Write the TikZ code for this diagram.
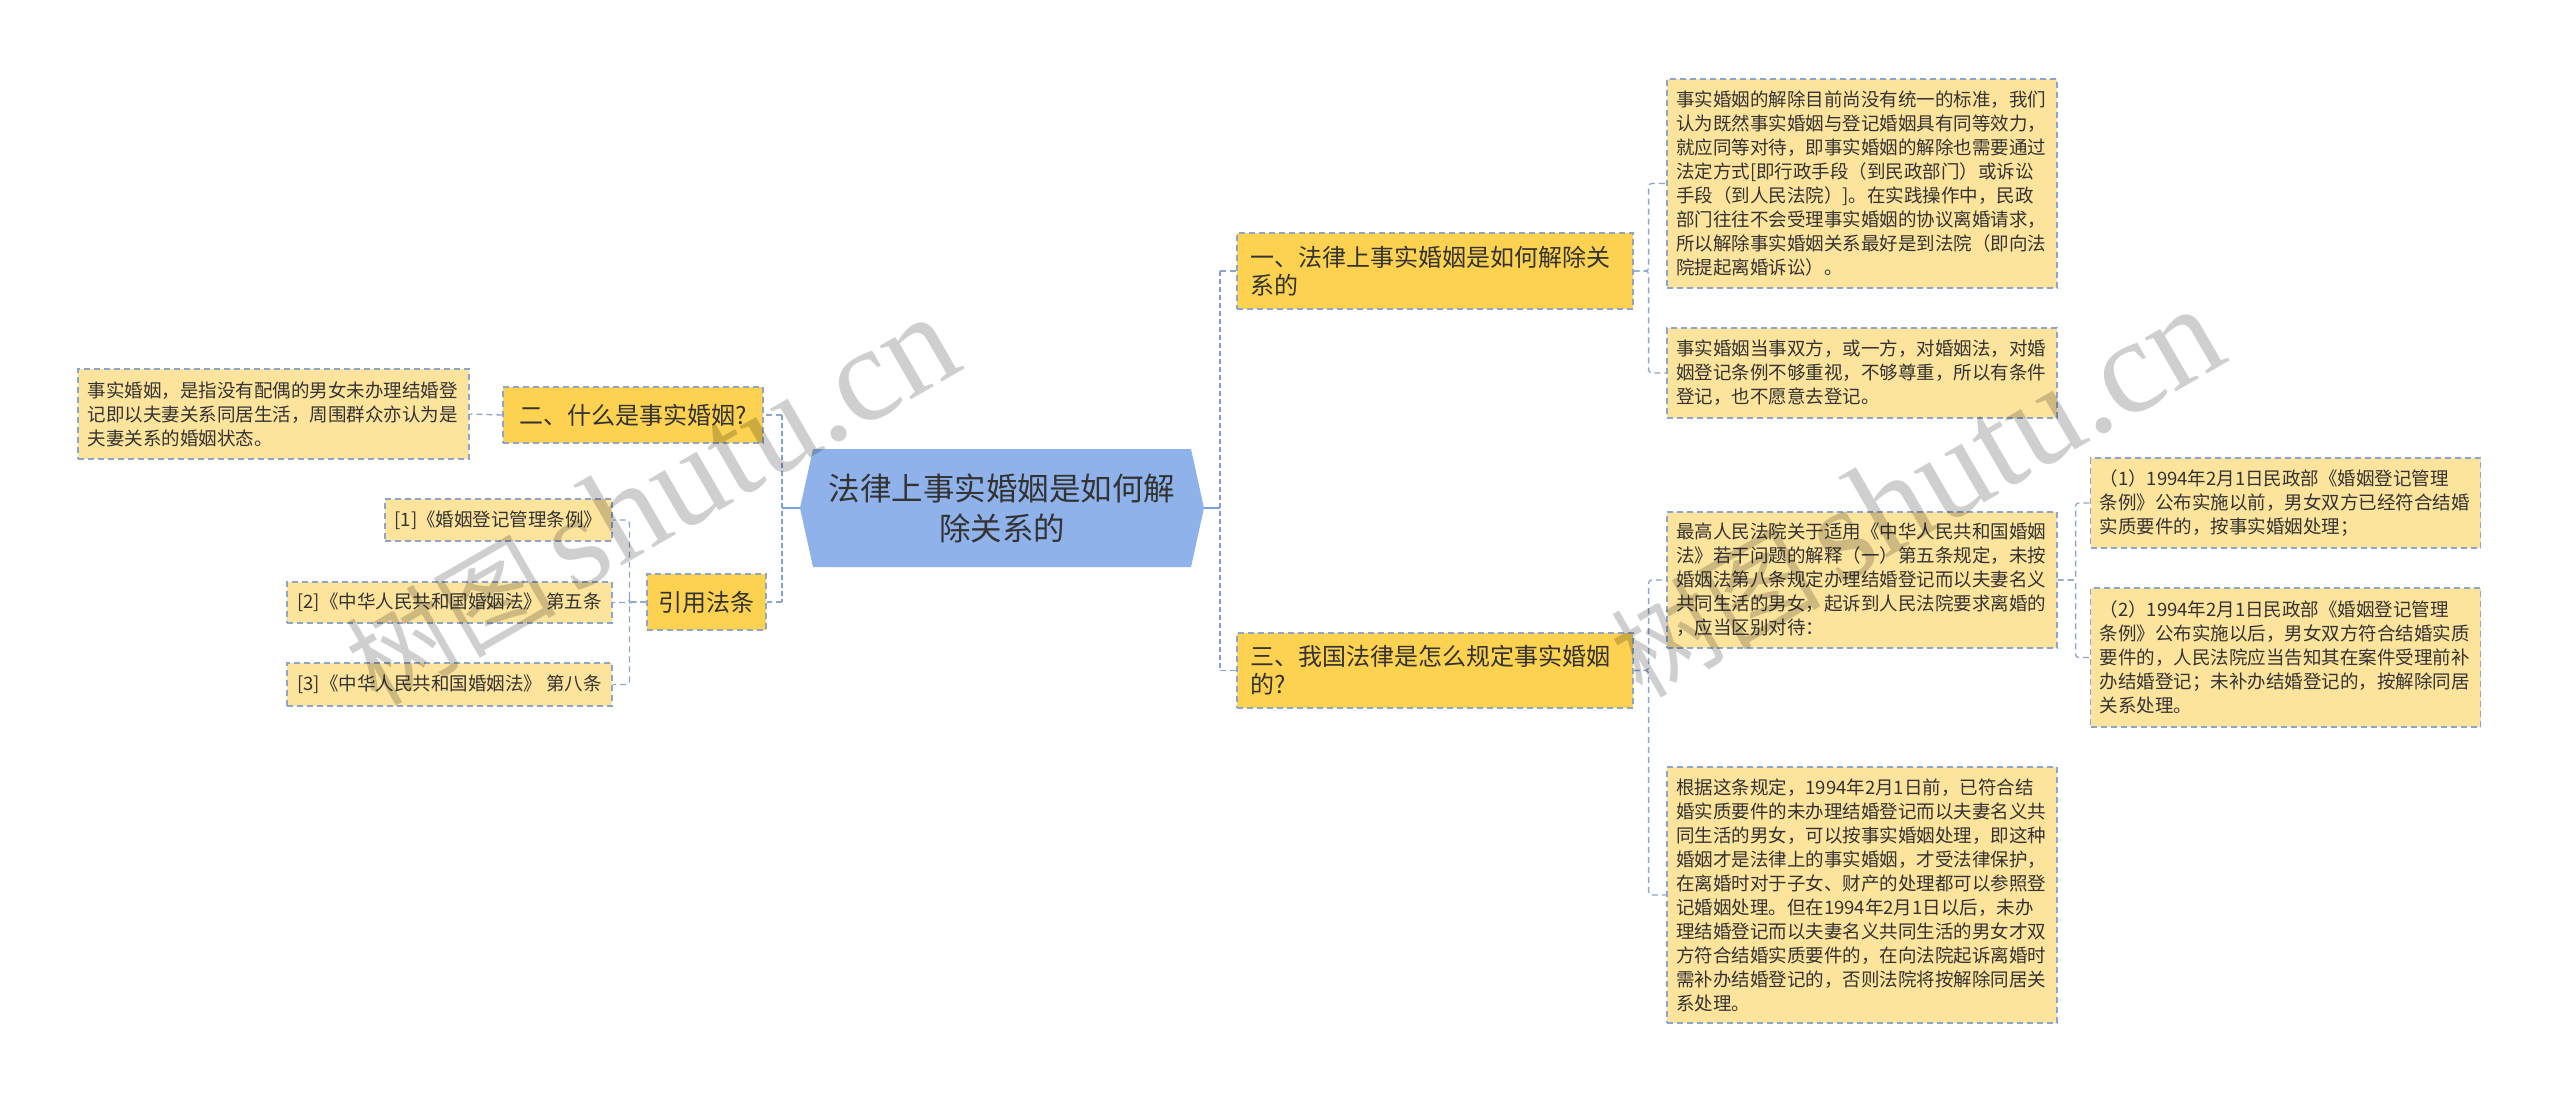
\documentclass[tikz,border=0pt]{standalone}
\usepackage{fontspec}
\setmainfont{Noto Sans CJK SC}
\newfontfamily\wmlatin{Liberation Serif}
\definecolor{leafc}{HTML}{FDE49D}
\definecolor{branchc}{HTML}{FCD250}
\definecolor{bordc}{HTML}{8CA5CD}
\definecolor{edgec}{HTML}{8CA5CD}
\definecolor{rootc}{HTML}{7BA0DC}
\definecolor{rootfill}{HTML}{8FB2EA}
\definecolor{txtc}{HTML}{333333}
\tikzset{
  sz/.style 2 args={minimum width=#1pt, minimum height=#2pt},
  leaf/.style={draw=bordc, fill=leafc, line width=1.2pt, dash pattern=on 6pt off 4pt,
    inner xsep=9pt, inner ysep=0pt, text width=372pt, align=left,
    font=\fontsize{18.5}{24}\selectfont, text=txtc},
  refbox/.style={draw=bordc, fill=leafc, line width=1.2pt, dash pattern=on 6pt off 4pt,
    inner sep=0pt, align=center, font=\fontsize{18.5}{24}\selectfont, text=txtc},
  branch/.style={draw=bordc, fill=branchc, line width=1.2pt, dash pattern=on 6pt off 4pt,
    inner xsep=13pt, inner ysep=0pt, text width=370pt, align=left,
    font=\fontsize{24}{28}\selectfont, text=txtc},
  branchc/.style={draw=bordc, fill=branchc, line width=1.2pt, dash pattern=on 6pt off 4pt,
    inner sep=0pt, align=center, font=\fontsize{24}{28}\selectfont, text=txtc},
  edge/.style={draw=edgec, line width=1.3pt, dash pattern=on 6pt off 4pt, rounded corners=3pt},
  rootdash/.style={draw=rootc, line width=2.5pt, dash pattern=on 5pt off 3pt},
  rootsolid/.style={draw=rootc, line width=2.5pt},
  wm/.style={text=black, opacity=0.19, inner sep=0pt},
}
\begin{document}
\begin{tikzpicture}[x=1pt, y=-1pt]
\fill[white] (0,0) rectangle (2560,1103);
\useasboundingbox (0,0) rectangle (2560,1103);

% root
\fill[rootfill] (800,508) -- (813,449) -- (1191,449) -- (1204,508) -- (1191,567) -- (813,567) -- cycle;
\node[sz={404}{118}, inner sep=0pt, align=center, text=txtc, font=\fontsize{31.5}{40}\selectfont] (root) at (1002,508) {法律上事实婚姻是如何解\\除关系的};

% branches
\node[branch, sz={396}{76}] (b1) at (1435,271) {一、法律上事实婚姻是如何解除关\\系的};
\node[branch, sz={396}{75}] (b3) at (1435,670.5) {三、我国法律是怎么规定事实婚姻\\的?};
\node[branchc, sz={260}{56}] (b2) at (633,415) {二、什么是事实婚姻?};
\node[branchc, sz={119}{56}] (cite) at (706.5,602) {引用法条};

% left leaves
\node[leaf, sz={391}{90}] (lw) at (273.5,414) {事实婚姻，是指没有配偶的男女未办理结婚登\\记即以夫妻关系同居生活，周围群众亦认为是\\夫妻关系的婚姻状态。};
\node[refbox, sz={227}{42}] (r1) at (498.5,520) {[1]《婚姻登记管理条例》};
\node[refbox, sz={325}{41}] (r2) at (449.5,602.5) {[2]《中华人民共和国婚姻法》 第五条};
\node[refbox, sz={325}{43}] (r3) at (449.5,684.5) {[3]《中华人民共和国婚姻法》 第八条};

% right leaves
\node[leaf, sz={390}{209}] (l1a) at (1862,183.5) {事实婚姻的解除目前尚没有统一的标准，我们\\认为既然事实婚姻与登记婚姻具有同等效力，\\就应同等对待，即事实婚姻的解除也需要通过\\法定方式[即行政手段（到民政部门）或诉讼\\手段（到人民法院）]。在实践操作中，民政\\部门往往不会受理事实婚姻的协议离婚请求，\\所以解除事实婚姻关系最好是到法院（即向法\\院提起离婚诉讼）。};
\node[leaf, sz={390}{90}] (l1b) at (1862,373) {事实婚姻当事双方，或一方，对婚姻法，对婚\\姻登记条例不够重视，不够尊重，所以有条件\\登记，也不愿意去登记。};
\node[leaf, sz={390}{136}] (l3a) at (1862,580) {最高人民法院关于适用《中华人民共和国婚姻\\法》若干问题的解释（一）第五条规定，未按\\婚姻法第八条规定办理结婚登记而以夫妻名义\\共同生活的男女，起诉到人民法院要求离婚的\\，应当区别对待：};
\node[leaf, sz={390}{256}] (l3b) at (1862,895) {根据这条规定，1994年2月1日前，已符合结\\婚实质要件的未办理结婚登记而以夫妻名义共\\同生活的男女，可以按事实婚姻处理，即这种\\婚姻才是法律上的事实婚姻，才受法律保护，\\在离婚时对于子女、财产的处理都可以参照登\\记婚姻处理。但在1994年2月1日以后，未办\\理结婚登记而以夫妻名义共同生活的男女才双\\方符合结婚实质要件的，在向法院起诉离婚时\\需补办结婚登记的，否则法院将按解除同居关\\系处理。};
\node[leaf, sz={389}{90}] (l3a1) at (2285.5,503) {（1）1994年2月1日民政部《婚姻登记管理\\条例》公布实施以前，男女双方已经符合结婚\\实质要件的，按事实婚姻处理；};
\node[leaf, sz={389}{139}] (l3a2) at (2285.5,657.5) {（2）1994年2月1日民政部《婚姻登记管理\\条例》公布实施以后，男女双方符合结婚实质\\要件的，人民法院应当告知其在案件受理前补\\办结婚登记；未补办结婚登记的，按解除同居\\关系处理。};

% root connectors
\coordinate (jR) at (1220,508);
\coordinate (jL) at (782,508);
\draw[rootsolid] (root.east) -- (jR);
\draw[rootsolid] (root.west) -- (jL);
\draw[rootdash] (jR |- b1.west) -- (jR |- b3.west);
\draw[rootdash] (jL |- b2.east) -- (jL |- cite.east);
\draw[edge] (jR |- b1.west) -- (b1.west);
\draw[edge] (jR |- b3.west) -- (b3.west);
\draw[edge] (jL |- b2.east) -- (b2.east);
\draw[edge] (jL |- cite.east) -- (cite.east);

% tree connectors
\draw[edge] (b1.east) -- ++(15,0) |- (l1a.west);
\draw[edge] (b1.east) -- ++(15,0) |- (l1b.west);
\draw[edge] (b3.east) -- ++(15,0) |- (l3a.west);
\draw[edge] (b3.east) -- ++(15,0) |- (l3b.west);
\draw[edge] (l3a.east) -- ++(18,0) |- (l3a1.west);
\draw[edge] (l3a.east) -- ++(18,0) |- (l3a2.west);
\draw[edge] (b2.west) -- (lw.east);
\draw[edge] (cite.west) -- ++(-17,0) |- (r1.east);
\draw[edge] (cite.west) -- ++(-17,0) |- (r2.east);
\draw[edge] (cite.west) -- ++(-17,0) |- (r3.east);

% watermarks
\node[wm, anchor=base west, rotate=30] (wm1) at (377,708) {\fontsize{105}{105}\selectfont 树图\,\wmlatin\fontsize{135}{135}\selectfont shutu.cn};
\node[wm, anchor=base west, rotate=30] (wm2) at (1642,700) {\fontsize{105}{105}\selectfont 树图\,\wmlatin\fontsize{135}{135}\selectfont shutu.cn};
\end{tikzpicture}
\end{document}
